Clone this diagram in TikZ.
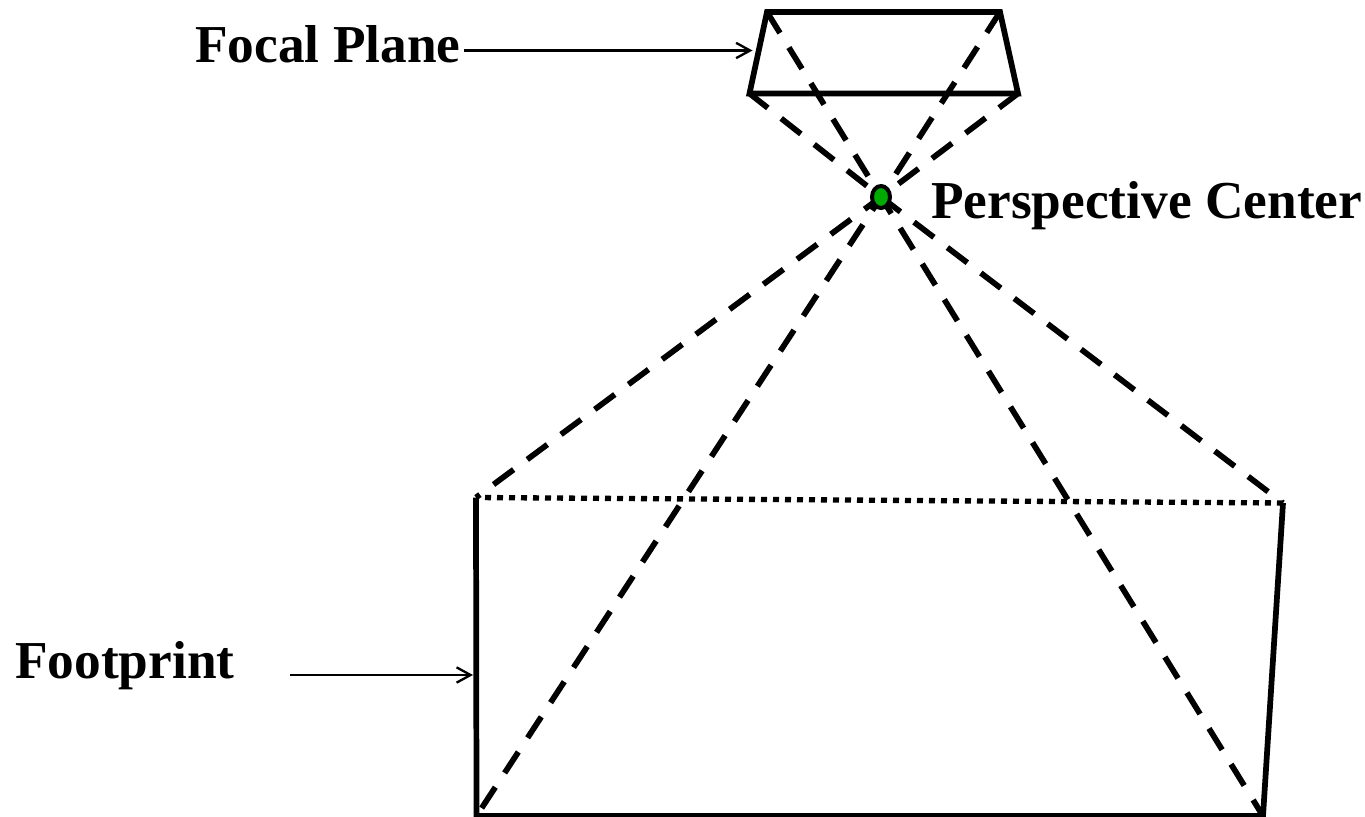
\documentclass[tikz,border=0pt]{standalone}
\usepackage{fontspec}
\setmainfont{Liberation Serif}
\usetikzlibrary{arrows.meta,shapes.geometric}
\definecolor{pcgreen}{RGB}{0,170,0}
\tikzset{
  solidedge/.style={line width=4.3pt,line join=miter},
  rayline/.style={line width=4.3pt,dash pattern=on 18.75pt off 12.75pt},
  dotline/.style={line width=4pt,dash pattern=on 4.5pt off 4.5pt,dash phase=2.25pt},
  pointer/.style={line width=1.75pt,-{Straight Barb[length=10.5pt,width=11.5pt,line width=1.75pt]}},
  lbl/.style={font=\bfseries\fontsize{40pt}{42pt}\selectfont,inner sep=0pt,text=black},
}
\begin{document}
\begin{tikzpicture}[x=0.75pt,y=-0.75pt]
\useasboundingbox (0,0) rectangle (1365,817);
\coordinate (ftl) at (767,12);
\coordinate (ftr) at (1000,12);
\coordinate (fbl) at (749.5,93.5);
\coordinate (fbr) at (1018,93.5);
\coordinate (pc) at (881,197);
\coordinate (gtl) at (476,497.5);
\coordinate (gtr) at (1283,503);
\coordinate (gbr) at (1263,816);
\coordinate (gbl) at (476.5,816);
\coordinate (fptarget) at (752.5,50.5);
\coordinate (gptarget) at (473,675);
\coordinate (gpstart) at (290,675);
% rays, each drawn outwards from the centre
\draw[rayline,dash phase=13.05pt] (pc) -- (ftl);
\draw[rayline,dash phase=10.9pt] (pc) -- (ftr);
\draw[rayline,dash phase=18pt] (pc) -- (fbl);
\draw[rayline,dash phase=15pt] (pc) -- (fbr);
\draw[rayline,dash phase=3.4pt] (pc) -- (gtl);
\draw[rayline,dash phase=0.4pt] (pc) -- (gtr);
\draw[rayline,dash phase=6.75pt] (pc) -- (gbl);
\draw[rayline,dash phase=4.1pt] (pc) -- (gbr);
% frames
\draw[solidedge] (ftl) -- (ftr) -- (fbr) -- (fbl) -- cycle;
\draw[solidedge] (gtr) -- (gbr) -- (gbl) -- (gtl);
\draw[dotline] (gtl) -- (gtr);
% centre
\node[ellipse,draw=black,line width=3pt,fill=pcgreen,minimum width=13.5pt,minimum height=16.5pt,inner sep=0pt] (pcdot) at (pc) {};
% labels
\node[lbl,anchor=base west] (fp) at (195,63) {Focal Plane};
\node[lbl,anchor=base west] (pcl) at (931,218) {Perspective Center};
\node[lbl,anchor=base west] (gp) at (15,678) {Footprint};
\draw[pointer,shorten <=2.5pt] (fp.east |- fptarget) -- (fptarget);
\draw[pointer] (gpstart) -- (gptarget);
\end{tikzpicture}
\end{document}
